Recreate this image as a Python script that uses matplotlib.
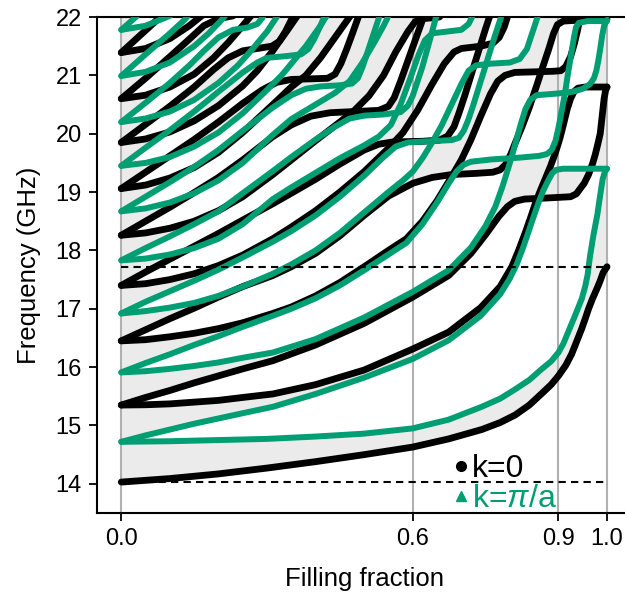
import numpy as np
import matplotlib.pyplot as plt
from matplotlib.lines import Line2D

plt.rcParams['font.family'] = ['Liberation Sans', 'DejaVu Sans']
plt.rcParams['mathtext.fontset'] = 'custom'
plt.rcParams['mathtext.it'] = 'Liberation Sans:italic'
plt.rcParams['mathtext.rm'] = 'Liberation Sans'

green = '#009E73'

# k=0 band edges: filling fraction (x) and frequency in GHz (f)
k0_x = [
    [0, 0.1, 0.2, 0.3, 0.4, 0.5, 0.6, 0.674, 0.742, 0.78, 0.811, 0.84, 0.866, 0.885, 0.9, 0.915, 0.927, 0.938, 0.948, 0.956, 0.962, 0.97, 0.979, 0.986, 0.992, 1.0],
    [0, 0.05, 0.1, 0.15, 0.2, 0.25, 0.312, 0.4, 0.5, 0.6, 0.674, 0.74, 0.78, 0.804, 0.818, 0.832, 0.843, 0.853, 0.863, 0.873, 0.884, 0.894, 0.903, 0.911, 0.918, 0.925, 0.932, 0.94, 0.955, 1.0],
    [0, 0.05, 0.1, 0.15, 0.2, 0.25, 0.312, 0.4, 0.5, 0.6, 0.674, 0.72, 0.75, 0.777, 0.795, 0.81, 0.83, 0.88, 0.925, 0.937, 0.944, 0.953, 0.962, 0.97, 0.976, 0.981, 0.986, 0.99, 0.994, 0.997, 1.0],
    [0, 0.05, 0.1, 0.15, 0.2, 0.25, 0.312, 0.35, 0.4, 0.45, 0.5, 0.55, 0.587, 0.62, 0.65, 0.674, 0.7, 0.72, 0.74, 0.76, 0.775, 0.79, 0.81, 0.85, 0.89, 0.905, 0.915, 0.925, 0.933, 0.94, 0.946, 0.95],
    [0, 0.05, 0.1, 0.15, 0.2, 0.25, 0.312, 0.35, 0.4, 0.45, 0.5, 0.55, 0.6, 0.64, 0.68, 0.73, 0.765, 0.78, 0.792, 0.802, 0.812, 0.825, 0.84, 0.855, 0.868, 0.88, 0.89, 0.898, 0.91, 0.95, 1.0],
    [0, 0.05, 0.1, 0.15, 0.2, 0.25, 0.312, 0.35, 0.4, 0.45, 0.5, 0.55, 0.58, 0.61, 0.64, 0.665, 0.685, 0.7, 0.74, 0.765, 0.778, 0.788, 0.795, 0.8],
    [0, 0.05, 0.1, 0.15, 0.2, 0.25, 0.312, 0.35, 0.4, 0.45, 0.5, 0.53, 0.56, 0.62, 0.655, 0.672, 0.685, 0.695, 0.707, 0.72, 0.735, 0.75, 0.758, 0.765],
    [0, 0.05, 0.1, 0.15, 0.2, 0.25, 0.312, 0.35, 0.4, 0.45, 0.48, 0.51, 0.54, 0.565, 0.59, 0.605, 0.62, 0.655, 0.67],
    [0, 0.05, 0.1, 0.15, 0.2, 0.25, 0.312, 0.35, 0.39, 0.43, 0.48, 0.53, 0.55, 0.562, 0.575, 0.59, 0.605, 0.618, 0.626],
    [0, 0.05, 0.1, 0.15, 0.2, 0.25, 0.312, 0.35, 0.38, 0.41, 0.44, 0.47, 0.48],
    [0, 0.05, 0.1, 0.15, 0.2, 0.25, 0.29, 0.32, 0.35, 0.39, 0.425, 0.44, 0.452, 0.464, 0.476, 0.488, 0.495],
    [0, 0.05, 0.1, 0.15, 0.2, 0.25, 0.28, 0.31, 0.34, 0.365, 0.37],
    [0, 0.05, 0.1, 0.15, 0.19, 0.22, 0.25, 0.28, 0.31, 0.325, 0.338, 0.35, 0.36],
    [0, 0.05, 0.1, 0.15, 0.19, 0.22, 0.25, 0.27, 0.28],
    [0, 0.05, 0.1, 0.14, 0.17, 0.2, 0.23, 0.25],
    [0, 0.05, 0.1, 0.14, 0.17, 0.18],
    [0, 0.05, 0.08, 0.09],
]
k0_f = [
    [14.03, 14.09, 14.17, 14.27, 14.38, 14.50, 14.63, 14.77, 14.93, 15.05, 15.18, 15.35, 15.55, 15.70, 15.85, 16.03, 16.22, 16.45, 16.66, 16.85, 17.0, 17.17, 17.34, 17.48, 17.62, 17.72],
    [15.35, 15.355, 15.37, 15.40, 15.43, 15.48, 15.54, 15.70, 15.95, 16.31, 16.60, 17.02, 17.38, 17.72, 18.0, 18.31, 18.57, 18.82, 19.03, 19.23, 19.45, 19.68, 19.92, 20.18, 20.42, 20.6, 20.72, 20.78, 20.80, 20.80],
    [15.35, 15.48, 15.6, 15.73, 15.85, 15.97, 16.11, 16.38, 16.75, 17.2, 17.57, 17.95, 18.27, 18.58, 18.75, 18.84, 18.88, 18.90, 18.92, 18.97, 19.05, 19.15, 19.3, 19.48, 19.65, 19.82, 20.0, 20.3, 20.6, 20.74, 20.80],
    [16.45, 16.47, 16.52, 16.58, 16.66, 16.76, 16.92, 17.03, 17.22, 17.45, 17.72, 18.0, 18.2, 18.5, 18.85, 19.18, 19.55, 19.9, 20.3, 20.68, 20.9, 21.0, 21.05, 21.06, 21.07, 21.08, 21.15, 21.32, 21.55, 21.8, 22.05, 22.2],
    [16.45, 16.64, 16.83, 17.01, 17.2, 17.38, 17.57, 17.72, 17.95, 18.25, 18.6, 18.93, 19.15, 19.25, 19.3, 19.32, 19.34, 19.38, 19.48, 19.65, 19.86, 20.12, 20.45, 20.82, 21.15, 21.45, 21.72, 21.87, 21.93, 21.95, 21.96],
    [17.40, 17.43, 17.5, 17.6, 17.74, 17.92, 18.2, 18.4, 18.68, 19.0, 19.35, 19.75, 20.02, 20.4, 20.85, 21.2, 21.4, 21.46, 21.5, 21.55, 21.65, 21.82, 22.0, 22.15],
    [17.40, 17.63, 17.85, 18.07, 18.29, 18.52, 18.8, 18.98, 19.22, 19.48, 19.72, 19.82, 19.86, 19.87, 19.89, 19.96, 20.12, 20.35, 20.65, 21.0, 21.4, 21.8, 22.0, 22.15],
    [18.26, 18.3, 18.38, 18.5, 18.68, 18.92, 19.3, 19.55, 19.88, 20.2, 20.4, 20.65, 21.0, 21.4, 21.75, 21.92, 21.97, 22.0, 22.15],
    [18.26, 18.5, 18.74, 18.99, 19.25, 19.55, 19.95, 20.15, 20.3, 20.36, 20.38, 20.4, 20.47, 20.62, 20.9, 21.25, 21.6, 21.9, 22.1],
    [19.06, 19.12, 19.24, 19.42, 19.68, 20.02, 20.5, 20.8, 21.0, 21.3, 21.65, 22.0, 22.15],
    [19.06, 19.34, 19.62, 19.9, 20.2, 20.52, 20.75, 20.88, 20.93, 20.94, 20.95, 21.02, 21.2, 21.45, 21.72, 22.0, 22.15],
    [19.85, 19.91, 20.03, 20.22, 20.48, 20.82, 21.08, 21.4, 21.75, 22.05, 22.15],
    [19.85, 20.16, 20.47, 20.8, 21.1, 21.3, 21.42, 21.46, 21.5, 21.58, 21.75, 21.95, 22.15],
    [20.60, 20.66, 20.8, 21.02, 21.3, 21.56, 21.85, 22.05, 22.15],
    [20.60, 20.95, 21.32, 21.62, 21.85, 21.97, 22.02, 22.15],
    [21.39, 21.46, 21.63, 21.85, 22.05, 22.15],
    [21.39, 21.77, 22.0, 22.1],
]

# k=pi/a band edges
kpi_x = [
    [0, 0.1, 0.2, 0.3, 0.4, 0.5, 0.6, 0.674, 0.742, 0.78, 0.811, 0.84, 0.866, 0.885, 0.9, 0.91, 0.92, 0.934, 0.948, 0.955, 0.96, 0.965, 0.972, 0.98, 0.986, 0.991, 0.996, 1.0],
    [0, 0.05, 0.1, 0.15, 0.2, 0.25, 0.312, 0.4, 0.5, 0.6, 0.674, 0.74, 0.78, 0.8, 0.814, 0.826, 0.838, 0.849, 0.859, 0.869, 0.879, 0.887, 0.895, 0.91, 1.0],
    [0, 0.05, 0.1, 0.15, 0.2, 0.25, 0.312, 0.4, 0.5, 0.6, 0.674, 0.72, 0.75, 0.77, 0.785, 0.8, 0.812, 0.822, 0.832, 0.842, 0.855, 0.9, 0.93, 0.95, 0.965, 0.973, 0.978, 0.982, 0.986, 0.99, 0.994, 1.0],
    [0, 0.05, 0.1, 0.15, 0.2, 0.25, 0.312, 0.35, 0.4, 0.45, 0.5, 0.55, 0.587, 0.62, 0.65, 0.674, 0.69, 0.705, 0.72, 0.763, 0.82, 0.86, 0.876, 0.886, 0.894, 0.9, 0.907, 0.914, 0.92, 0.927, 0.932, 0.936, 0.942, 0.96, 1.0],
    [0, 0.05, 0.1, 0.15, 0.2, 0.25, 0.312, 0.35, 0.4, 0.45, 0.5, 0.55, 0.58, 0.6, 0.62, 0.64, 0.66, 0.68, 0.7, 0.715, 0.73, 0.76, 0.8, 0.82, 0.835, 0.845, 0.855, 0.862],
    [0, 0.05, 0.1, 0.15, 0.2, 0.25, 0.312, 0.35, 0.4, 0.45, 0.5, 0.54, 0.565, 0.59, 0.63, 0.68, 0.695, 0.705, 0.715, 0.725, 0.74, 0.755, 0.77, 0.78, 0.785],
    [0, 0.05, 0.1, 0.15, 0.2, 0.25, 0.312, 0.35, 0.4, 0.45, 0.5, 0.53, 0.555, 0.575, 0.595, 0.612, 0.625, 0.64, 0.67, 0.7, 0.715, 0.725, 0.73],
    [0, 0.05, 0.1, 0.15, 0.2, 0.25, 0.312, 0.35, 0.4, 0.44, 0.47, 0.5, 0.54, 0.575, 0.59, 0.6, 0.61, 0.62, 0.63, 0.64, 0.648, 0.652],
    [0, 0.05, 0.1, 0.15, 0.2, 0.25, 0.312, 0.35, 0.4, 0.44, 0.47, 0.495, 0.52, 0.54, 0.555],
    [0, 0.05, 0.1, 0.15, 0.2, 0.25, 0.312, 0.35, 0.38, 0.41, 0.45, 0.475, 0.487, 0.497, 0.507, 0.517, 0.527, 0.535],
    [0, 0.05, 0.1, 0.15, 0.2, 0.25, 0.3, 0.33, 0.35, 0.38, 0.41, 0.425, 0.43],
    [0, 0.05, 0.1, 0.15, 0.2, 0.25, 0.28, 0.3, 0.34, 0.37, 0.385, 0.397, 0.41, 0.42, 0.425],
    [0, 0.05, 0.1, 0.15, 0.2, 0.24, 0.27, 0.3, 0.32, 0.33],
    [0, 0.05, 0.1, 0.14, 0.17, 0.2, 0.23, 0.26, 0.28, 0.29, 0.3],
    [0, 0.05, 0.1, 0.15, 0.18, 0.21, 0.22],
    [0, 0.05, 0.1, 0.13, 0.14],
    [0, 0.05, 0.1, 0.11],
    [0, 0.03, 0.04],
]
kpi_f = [
    [14.72, 14.73, 14.75, 14.77, 14.81, 14.86, 14.95, 15.10, 15.32, 15.46, 15.62, 15.78, 15.97, 16.1, 16.25, 16.4, 16.6, 16.88, 17.17, 17.38, 17.58, 17.9, 18.26, 18.61, 18.95, 19.22, 19.36, 19.40],
    [14.72, 14.83, 14.93, 15.03, 15.12, 15.21, 15.32, 15.54, 15.82, 16.14, 16.46, 16.88, 17.25, 17.52, 17.76, 18.02, 18.31, 18.58, 18.82, 19.03, 19.2, 19.32, 19.38, 19.40, 19.40],
    [15.91, 15.93, 15.97, 16.02, 16.08, 16.16, 16.25, 16.48, 16.85, 17.29, 17.66, 18.05, 18.42, 18.75, 19.1, 19.5, 19.85, 20.15, 20.42, 20.58, 20.66, 20.69, 20.72, 20.77, 20.85, 20.95, 21.08, 21.25, 21.45, 21.68, 21.85, 21.95],
    [15.91, 16.07, 16.22, 16.38, 16.53, 16.69, 16.88, 17.0, 17.18, 17.4, 17.66, 17.93, 18.13, 18.45, 18.82, 19.15, 19.35, 19.47, 19.52, 19.56, 19.59, 19.62, 19.65, 19.72, 19.88, 20.1, 20.4, 20.72, 21.05, 21.4, 21.65, 21.82, 21.9, 21.93, 21.93],
    [16.92, 16.96, 17.02, 17.1, 17.22, 17.38, 17.6, 17.76, 18.0, 18.3, 18.65, 19.0, 19.2, 19.35, 19.58, 19.85, 20.15, 20.5, 20.85, 21.08, 21.17, 21.2, 21.22, 21.28, 21.45, 21.7, 21.95, 22.15],
    [16.92, 17.12, 17.3, 17.48, 17.67, 17.88, 18.15, 18.33, 18.6, 18.92, 19.28, 19.6, 19.78, 19.85, 19.87, 19.89, 19.93, 20.05, 20.25, 20.5, 20.9, 21.3, 21.7, 21.95, 22.1],
    [17.83, 17.86, 17.93, 18.04, 18.2, 18.45, 18.88, 19.08, 19.33, 19.58, 19.8, 19.95, 20.15, 20.5, 20.95, 21.35, 21.6, 21.72, 21.75, 21.78, 21.88, 22.05, 22.15],
    [17.83, 18.04, 18.24, 18.45, 18.67, 18.98, 19.36, 19.6, 19.9, 20.12, 20.26, 20.31, 20.33, 20.37, 20.48, 20.65, 20.9, 21.15, 21.45, 21.75, 22.0, 22.15],
    [18.67, 18.72, 18.82, 18.98, 19.2, 19.5, 19.98, 20.25, 20.5, 20.7, 20.9, 21.2, 21.55, 21.85, 22.1],
    [18.67, 18.92, 19.17, 19.43, 19.72, 20.05, 20.45, 20.66, 20.77, 20.81, 20.83, 20.86, 20.95, 21.15, 21.4, 21.65, 21.9, 22.1],
    [19.45, 19.5, 19.6, 19.78, 20.02, 20.35, 20.75, 21.0, 21.2, 21.5, 21.85, 22.05, 22.15],
    [19.45, 19.76, 20.06, 20.38, 20.72, 21.05, 21.22, 21.3, 21.33, 21.36, 21.45, 21.62, 21.85, 22.05, 22.15],
    [20.20, 20.26, 20.38, 20.58, 20.87, 21.17, 21.45, 21.75, 22.0, 22.15],
    [20.20, 20.53, 20.87, 21.17, 21.42, 21.65, 21.78, 21.82, 21.88, 21.98, 22.15],
    [20.99, 21.06, 21.22, 21.5, 21.72, 21.98, 22.1],
    [20.99, 21.36, 21.72, 21.95, 22.05],
    [21.78, 21.85, 22.02, 22.1],
    [21.78, 22.0, 22.1],
]

# uniform-material cutoffs (dashed lines)
cutoffs = [14.03, 17.72]

fig = plt.figure(figsize=(6.25, 5.93), dpi=100)
ax = fig.add_axes([97 / 625, 1 - 513 / 593, 534.3 / 625, 496 / 593])

# allowed bands: the n-th k=0 edge and the n-th k=pi/a edge bound band n
xg = np.linspace(0, 1, 1201)
e0 = np.sort([np.interp(xg, xs, fs, right=np.inf) for xs, fs in zip(k0_x, k0_f)], axis=0)
epi = np.sort([np.interp(xg, xs, fs, right=np.inf) for xs, fs in zip(kpi_x, kpi_f)], axis=0)
for n in range(max(len(e0), len(epi))):
    a = e0[n] if n < len(e0) else np.full_like(xg, np.inf)
    b = epi[n] if n < len(epi) else np.full_like(xg, np.inf)
    lo = np.clip(np.minimum(a, b), 13, 22.5)
    hi = np.clip(np.maximum(a, b), 13, 22.5)
    ax.fill_between(xg, lo, hi, color='#ebebeb', lw=0, zorder=1)

for xv in [0, 0.6, 0.9, 1.0]:
    ax.axvline(xv, color='#b0b0b0', lw=1.5, zorder=1.5)

for xs, fs in zip(k0_x, k0_f):
    ax.plot(xs, fs, color='black', lw=4.9, solid_capstyle='round', solid_joinstyle='round', zorder=3)
for xs, fs in zip(kpi_x, kpi_f):
    ax.plot(xs, fs, color=green, lw=4.3, solid_capstyle='round', solid_joinstyle='round', zorder=4)

for c in cutoffs:
    ax.plot([0, 1], [c, c], color='black', ls=(0, (3.5, 2.5)), lw=1.5, zorder=5)

ax.set_xlim(-0.05, 1.05)
ax.set_ylim(13.5, 22)
ax.set_xticks([0, 0.6, 0.9, 1.0])
ax.set_xticklabels(['0.0', '0.6', '0.9', '1.0'])
ax.set_yticks(range(14, 23))
ax.tick_params(labelsize=17, length=6, width=1.3, pad=5)
for s in ax.spines.values():
    s.set_linewidth(1.5)
ax.set_xlabel('Filling fraction', fontsize=18.5, labelpad=12)
ax.set_ylabel('Frequency (GHz)', fontsize=18.5, labelpad=10)

handles = [
    Line2D([], [], ls='none', marker='o', color='black', ms=7),
    Line2D([], [], ls='none', marker='^', color=green, ms=6.5),
]
leg = ax.legend(handles, ['k=0', 'k=$\\pi$/a'], loc='lower left',
                bbox_to_anchor=(0.645, -0.028), frameon=False, fontsize=23,
                handlelength=0.4, handletextpad=0.15, labelspacing=0.0,
                borderaxespad=0)
for t, c in zip(leg.get_texts(), ['black', green]):
    t.set_color(c)

fig.savefig('out.png', dpi=100)
